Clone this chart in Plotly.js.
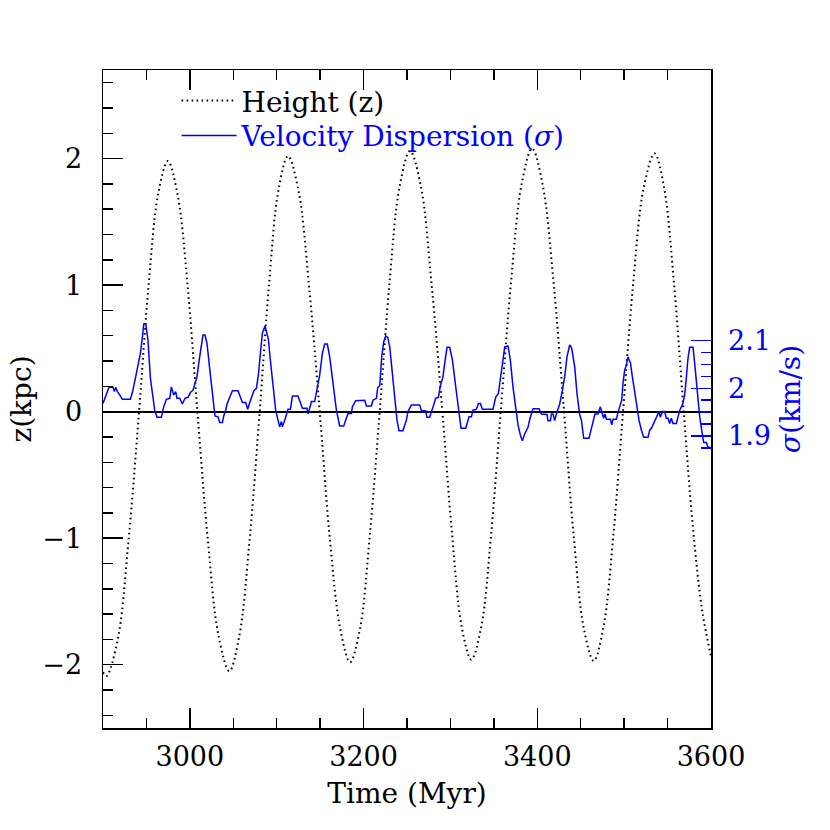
<!DOCTYPE html>
<html>
<head>
<meta charset="utf-8">
<script src="https://cdn.plot.ly/plotly-3.0.1.min.js"></script>
<style>html,body{margin:0;padding:0;background:#fff;}#plot{width:830px;height:830px;}</style>
</head>
<body>
<div id="plot"></div>
<script>
// Height z(t) in kpc (dotted black curve)
const timeZ = [2900, 2904, 2917, 2929, 2941.5, 2952.5, 2963.5, 2974.7, 2986, 2997.5, 3008.7, 3020.8, 3033, 3045.5, 3057, 3068.7, 3080.4, 3091.2, 3102, 3113, 3125, 3137, 3149.5, 3161, 3173, 3184.5, 3196, 3207, 3218.6, 3230, 3241.5, 3253.5, 3266, 3278, 3290.7, 3302, 3313, 3324, 3335.5, 3346.7, 3357.9, 3370, 3382, 3394, 3406, 3418.5, 3430.8, 3442, 3453.5, 3465, 3476, 3487.4, 3498.7, 3510.5, 3522.5, 3535, 3546, 3557.3, 3568.6, 3579, 3590, 3600];
const heightZ = [-2.06, -2.09, -1.80, -1.05, 0, 1.00, 1.72, 1.98, 1.71, 0.99, 0, -1.02, -1.77, -2.05, -1.77, -1.02, 0, 1.01, 1.75, 2.02, 1.75, 1.01, 0, -0.99, -1.71, -1.98, -1.71, -0.99, 0, 1.03, 1.78, 2.06, 1.78, 1.03, 0, -0.98, -1.70, -1.96, -1.70, -0.98, 0, 1.04, 1.80, 2.08, 1.80, 1.04, 0, -0.99, -1.71, -1.97, -1.71, -0.99, 0, 1.02, 1.77, 2.04, 1.77, 1.02, 0, -0.90, -1.58, -1.93];

// Velocity dispersion sigma(t) in km/s (blue curve)
const timeSigma = [2900.0, 2902.0, 2904.6, 2906.9, 2911.5, 2913.1, 2914.6, 2916.6, 2919.2, 2922.3, 2931.5, 2933.8, 2936.5, 2940.3, 2943.1, 2945.4, 2946.9, 2949.2, 2951.8, 2954.6, 2957.6, 2959.5, 2962.2, 2967.2, 2969.9, 2973.0, 2976.8, 2978.7, 2981.4, 2983.7, 2985.2, 2988.3, 2991.4, 2994.4, 2997.9, 3000.6, 3003.6, 3005.6, 3008.2, 3010.5, 3013.3, 3015.1, 3017.4, 3019.7, 3022.8, 3026.6, 3028.9, 3032.4, 3034.4, 3037.5,
  3039.0, 3041.3, 3042.8, 3045.9, 3049.0, 3055.4, 3058.2, 3060.5, 3064.3, 3066.6, 3068.9, 3071.2, 3073.8, 3076.6, 3078.9, 3081.2, 3083.5, 3086.5, 3088.1, 3090.4, 3092.7, 3095.7, 3098.8, 3101.5, 3103.4, 3105.4, 3106.5, 3109.2, 3111.1, 3113.0, 3115.8, 3118.1, 3124.5, 3127.3, 3129.6, 3134.9, 3136.0, 3138.0, 3139.9, 3143.7, 3146.4, 3149.5, 3152.6, 3155.2, 3158.3, 3161.0, 3164.8, 3168.7, 3172.5, 3177.1,
  3180.2, 3182.1, 3186.0, 3187.1, 3190.9, 3201.3, 3203.3, 3209.0, 3210.8, 3214.8, 3216.3, 3218.6, 3220.9, 3223.2, 3225.5, 3227.8, 3230.1, 3233.2, 3235.8, 3238.5, 3240.8, 3245.4, 3247.4, 3249.3, 3251.1, 3255.1, 3264.6, 3266.6, 3271.5, 3273.0, 3276.1, 3278.1, 3280.7, 3283.0, 3286.1, 3288.4, 3291.4, 3293.4, 3296.1, 3299.2, 3302.3, 3306.1, 3309.2, 3312.2,
  3317.6, 3319.1, 3321.4, 3324.1, 3326.0, 3329.9, 3332.2, 3334.5, 3336.8, 3349.0, 3352.1, 3355.2, 3357.5, 3359.8, 3362.5, 3366.3, 3369.0, 3372.0, 3375.1, 3377.8, 3380.5, 3382.8, 3385.5, 3387.4, 3389.3, 3391.3, 3393.2, 3395.1, 3402.0, 3404.7, 3411.2, 3412.3, 3415.1, 3416.2, 3418.1, 3420.0, 3422.0, 3423.8, 3425.8, 3428.9, 3431.5, 3434.2, 3437.3, 3439.6, 3443.1, 3445.7, 3448.8, 3450.8, 3453.4,
  3459.5, 3462.3, 3464.1, 3466.4, 3469.9, 3472.6, 3474.9, 3476.4, 3477.9, 3479.6, 3484.2, 3485.7, 3487.2, 3491.1, 3492.9, 3494.9, 3497.2, 3498.7, 3500.6, 3502.6, 3504.4, 3505.6, 3507.2, 3509.5, 3512.2, 3514.8, 3517.1, 3519.9, 3522.5, 3527.5, 3529.4, 3531.4, 3533.2, 3535.2, 3537.8, 3540.1, 3541.7, 3544.0, 3546.7, 3548.6, 3550.5, 3552.4, 3554.4, 3556.2, 3560.1, 3561.7, 3564.0, 3567.1, 3569.7, 3571.7, 3573.5, 3575.5, 3579.3, 3581.2, 3583.9, 3587.0, 3590.1, 3591.6, 3594.7, 3596.5, 3599.0];
const sigmaVals = [1.968, 1.977, 1.991, 2.002, 2.002, 1.993, 2.002, 1.993, 1.986, 1.977, 1.977, 1.991, 2.014, 2.045, 2.074, 2.108, 2.135, 2.135, 2.101, 2.021, 1.982, 1.954, 1.939, 1.939, 1.961, 1.977, 1.979, 2.003, 1.986, 1.993, 1.979, 1.979, 1.967, 1.979, 1.981, 1.991, 1.996, 2.007, 2.024, 2.056, 2.095, 2.112, 2.112, 2.095, 2.042, 1.982, 1.942, 1.940, 1.928, 1.928,
  1.942, 1.954, 1.967, 1.981, 1.995, 1.995, 1.981, 1.970, 1.970, 1.956, 1.970, 1.981, 1.995, 2.000, 2.028, 2.074, 2.116, 2.131, 2.117, 2.103, 2.059, 2.003, 1.954, 1.933, 1.919, 1.930, 1.919, 1.933, 1.944, 1.956, 1.956, 1.984, 1.984, 1.970, 1.958, 1.958, 1.946, 1.958, 1.972, 1.972, 1.996, 2.028, 2.074, 2.093, 2.093, 2.066, 2.011, 1.954, 1.921, 1.921,
  1.937, 1.947, 1.947, 1.961, 1.974, 1.975, 1.963, 1.963, 1.975, 1.979, 2.002, 2.005, 2.066, 2.098, 2.110, 2.107, 2.087, 2.024, 1.972, 1.933, 1.911, 1.911, 1.923, 1.933, 1.951, 1.965, 1.965, 1.953, 1.953, 1.939, 1.939, 1.953, 1.965, 1.979, 1.981, 2.005, 2.024, 2.053, 2.086, 2.086, 2.059, 2.003, 1.954, 1.916,
  1.916, 1.926, 1.940, 1.940, 1.954, 1.956, 1.968, 1.968, 1.956, 1.956, 1.981, 1.989, 2.024, 2.056, 2.087, 2.089, 2.059, 2.003, 1.954, 1.923, 1.902, 1.890, 1.904, 1.912, 1.918, 1.935, 1.946, 1.957, 1.957, 1.946, 1.945, 1.932, 1.932, 1.946, 1.946, 1.932, 1.946, 1.956, 1.967, 1.996, 2.024, 2.066, 2.091, 2.084, 2.045, 1.989, 1.945, 1.933, 1.895,
  1.895, 1.916, 1.923, 1.946, 1.946, 1.961, 1.946, 1.937, 1.946, 1.935, 1.935, 1.923, 1.935, 1.935, 1.949, 1.961, 1.975, 2.011, 2.038, 2.049, 2.066, 2.060, 2.054, 2.024, 1.993, 1.961, 1.933, 1.912, 1.897, 1.897, 1.912, 1.916, 1.923, 1.930, 1.940, 1.951, 1.939, 1.951, 1.951, 1.937, 1.937, 1.926, 1.937, 1.926, 1.926, 1.940, 1.954, 1.965, 1.986, 2.024, 2.063, 2.086, 2.086, 2.053, 1.996, 1.940, 1.902, 1.886, 1.886, 1.876, 1.876];

// Tick labels
const xTickVals = [3000, 3200, 3400, 3600];
const xTickText = ['3000', '3200', '3400', '3600'];
const sigmaTickVals = [1.9, 2.0, 2.1];
const sigmaTickText = ['1.9', '2', '2.1'];
const sigmaMinorVals = [1.875, 1.925, 1.95, 1.975, 2.025, 2.05, 2.075];

const FONT = 'DejaVu Serif';
const BLUE = '#0000ff';

const traces = [
  {
    x: timeZ, y: heightZ, type: 'scatter', mode: 'lines',
    name: 'Height (z)',
    line: {color: '#000', width: 2, dash: '1.6px,3.4px', shape: 'spline', smoothing: 1},
    yaxis: 'y', legend: 'legend', hoverinfo: 'skip'
  },
  {
    x: timeSigma, y: sigmaVals, type: 'scatter', mode: 'lines',
    name: '<span style="color:#0000ff">Velocity Dispersion (<i>σ</i>)</span>',
    line: {color: BLUE, width: 1.5},
    yaxis: 'y2', legend: 'legend2', hoverinfo: 'skip'
  }
];

const legendCommon = {
  xanchor: 'left', yanchor: 'top',
  bgcolor: 'rgba(0,0,0,0)', borderwidth: 0,
  font: {family: FONT, size: 28, color: '#000'},
  itemwidth: 55
};

const layout = {
  width: 830, height: 830,
  margin: {l: 103, r: 119, t: 70, b: 102},
  paper_bgcolor: '#fff', plot_bgcolor: '#fff',
  font: {family: FONT, size: 27, color: '#000'},
  showlegend: true,
  legend: Object.assign({x: 0.121, y: 0.991}, legendCommon),
  legend2: Object.assign({x: 0.121, y: 0.938}, legendCommon),
  xaxis: {
    range: [2900, 3600],
    tickmode: 'array', tickvals: xTickVals, ticktext: xTickText,
    ticks: 'inside', ticklen: 20, tickwidth: 1.5, tickcolor: '#000',
    minor: {dtick: 50, tick0: 2900, ticks: 'inside', ticklen: 10, tickwidth: 1.5, tickcolor: '#000'},
    showline: true, linecolor: '#000', linewidth: 1.5, mirror: 'ticks',
    showgrid: false, zeroline: false,
    ticklabelstandoff: 4,
    tickfont: {family: FONT, size: 27},
    title: {text: 'Time (Myr)', font: {family: FONT, size: 28}, standoff: 12}
  },
  yaxis: {
    range: [-2.5, 2.7],
    tickmode: 'linear', tick0: 0, dtick: 1,
    ticks: 'inside', ticklen: 20, tickwidth: 1.5, tickcolor: '#000',
    minor: {dtick: 0.2, tick0: 0, ticks: 'inside', ticklen: 10, tickwidth: 1.5, tickcolor: '#000'},
    showline: true, linecolor: '#000', linewidth: 1.5, mirror: true,
    showgrid: false,
    zeroline: true, zerolinecolor: '#000', zerolinewidth: 1.8,
    ticklabelstandoff: 14,
    tickfont: {family: FONT, size: 27},
    title: {text: 'z(kpc)', font: {family: FONT, size: 28}, standoff: 2}
  },
  yaxis2: {
    overlaying: 'y', side: 'right',
    range: [1.2863, 2.6687],
    tickmode: 'array', tickvals: sigmaTickVals, ticktext: sigmaTickText,
    ticks: 'inside', ticklen: 20, tickwidth: 1.5, tickcolor: BLUE,
    minor: {tickmode: 'array', tickvals: sigmaMinorVals, ticks: 'inside', ticklen: 10, tickwidth: 1.5, tickcolor: BLUE},
    showline: false, showgrid: false, zeroline: false,
    ticklabelstandoff: 16,
    tickfont: {family: FONT, size: 27, color: BLUE},
    title: {text: '<i>σ</i>(km/s)', font: {family: FONT, size: 28, color: BLUE}, standoff: 10}
  }
};

Plotly.newPlot('plot', traces, layout, {staticPlot: true, displayModeBar: false});
</script>
</body>
</html>
